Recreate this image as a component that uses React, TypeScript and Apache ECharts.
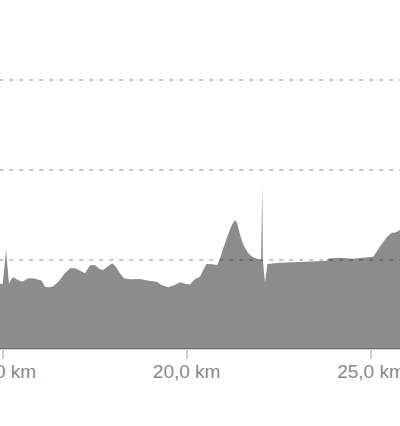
import React, { useEffect, useRef } from "react";
import * as echarts from "echarts";

const distanceKm: number[] = [
  14.8, 14.94, 15.01, 15.05, 15.1, 15.14, 15.18, 15.24, 15.3, 15.39, 15.53, 15.71, 15.84,
  16.0, 16.07, 16.16, 16.29, 16.38, 16.52, 16.7, 16.84, 16.97, 17.11, 17.24, 17.38, 17.51,
  17.65, 17.74, 17.85, 17.98, 18.08, 18.19, 18.3, 18.46, 18.73, 19.01, 19.19, 19.32, 19.5,
  19.68, 19.82, 19.96, 20.09, 20.23, 20.36, 20.45, 20.54, 20.68, 20.83, 20.9, 20.99, 21.1,
  21.22, 21.32, 21.37, 21.45, 21.54, 21.67, 21.81, 21.94, 22.017, 22.052, 22.066, 22.125,
  22.19, 22.53, 23.07, 23.8, 23.84, 24.16, 24.52, 24.7, 25.06, 25.24, 25.43, 25.56, 25.65,
  25.79, 26.06,
];
const elevation: number[] = [
  72.5, 72.5, 72.5, 88, 111, 92, 72.5, 77.7, 80, 77.7, 75, 79, 79,
  77, 76, 69.5, 68.8, 70, 75, 84.4, 90, 90, 87.3, 84.4, 93.3, 93.7,
  88.9, 88, 91.8, 95.5, 91.8, 84.4, 78.8, 77.7, 78, 75.8, 75, 71.4, 69,
  71.4, 74.4, 72.8, 72, 78, 80.6, 88, 94.8, 94.4, 93.7, 100.4, 112, 125,
  138, 144, 140, 127, 116, 106.7, 102, 100.4, 99.2, 183, 100, 74,
  94.8, 96.2, 97, 98.5, 101, 101.8, 100.7, 101.5, 103, 114, 125, 129.7, 129.7,
  132.7, 136,
];
const xTicks = { min: 0, max: 30, interval: 5 };
const yTicks = { min: 0, max: 300, interval: 100 };

export default function App() {
  const ref = useRef<HTMLDivElement>(null);
  useEffect(() => {
    if (!ref.current) return;
    const chart = echarts.init(ref.current, undefined, { renderer: "svg" });
    const pxPerKm = 36.87;
    const x15 = 2.3;
    const left = x15 - 15 * pxPerKm;
    const right = 400 - (x15 + 15 * pxPerKm);
    chart.setOption({
      animation: false,
      grid: {
        left,
        right,
        top: 80,
        bottom: 77,
        containLabel: false,
        outerBoundsMode: "none",
      },
      xAxis: {
        type: "value",
        min: xTicks.min,
        max: xTicks.max,
        interval: xTicks.interval,
        axisLine: { show: true, lineStyle: { color: "#cccccc", width: 2 } },
        axisTick: { show: true, length: 10, lineStyle: { color: "#cccccc", width: 2 } },
        splitLine: { show: false },
        axisLabel: {
          show: true,
          margin: 13,
          color: "#888888",
          fontSize: 19,
          fontFamily: "Liberation Sans, Arial, sans-serif",
          formatter: (v: number) => v.toFixed(1).replace(".", ",") + " km",
        },
      },
      yAxis: {
        type: "value",
        min: yTicks.min,
        max: yTicks.max,
        interval: yTicks.interval,
        axisLine: { show: false },
        axisTick: { show: false },
        axisLabel: { show: false },
        splitLine: {
          show: true,
          lineStyle: { color: "#c6c6c6", width: 2, type: [4, 6] },
        },
      },
      series: [
        {
          type: "line",
          data: distanceKm.map((d, i) => [d, elevation[i]]),
          symbol: "none",
          smooth: false,
          lineStyle: { width: 0, opacity: 0 },
          areaStyle: { color: "rgba(0,0,0,0.45)", opacity: 1 },
        },
      ],
    });
    return () => chart.dispose();
  }, []);
  return (
    <div
      ref={ref}
      style={{ position: "absolute", left: 0, top: 0, width: 400, height: 426 }}
    />
  );
}
